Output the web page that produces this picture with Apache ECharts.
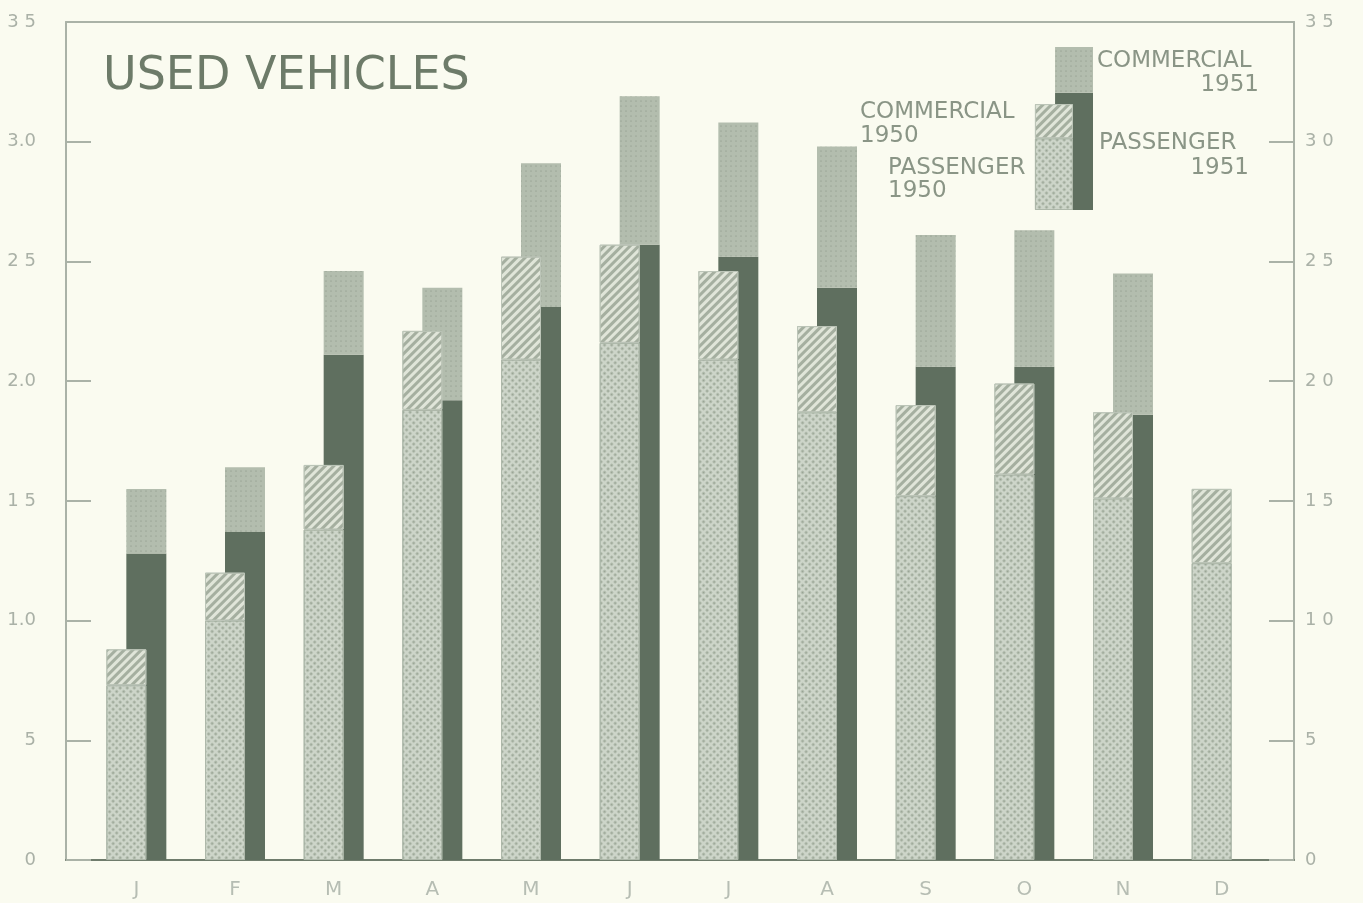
<!DOCTYPE html>
<html>
<head>
<meta charset="utf-8">
<script src="https://cdn.jsdelivr.net/npm/echarts@6/dist/echarts.min.js"></script>
<style>
  html, body { margin: 0; padding: 0; background: #fafbf0; }
  #container { width: 1363px; height: 903px; }
</style>
</head>
<body>
<div id="container"></div>
<script>
// months and values (millions of vehicles)
var months = ['J', 'F', 'M', 'A', 'M', 'J', 'J', 'A', 'S', 'O', 'N', 'D'];
var passenger1950 = [0.73, 1.00, 1.38, 1.88, 2.09, 2.16, 2.09, 1.87, 1.52, 1.61, 1.51, 1.24];
var commercial1950 = [0.15, 0.20, 0.27, 0.33, 0.43, 0.41, 0.37, 0.36, 0.38, 0.38, 0.36, 0.31];
var passenger1951 = [1.28, 1.37, 2.11, 1.92, 2.31, 2.57, 2.52, 2.39, 2.06, 2.06, 1.86, null];
var commercial1951 = [0.27, 0.27, 0.35, 0.47, 0.60, 0.62, 0.56, 0.59, 0.55, 0.57, 0.59, null];

var leftTickLabels = ['0', '5', '1.0', '1 5', '2.0', '2 5', '3.0', '3 5'];
var rightTickLabels = ['0', '5', '1 0', '1 5', '2 0', '2 5', '3 0', '3 5'];

// key (legend) sample bar
var keyPassenger1950 = [0.44];
var keyCommercial1950 = [0.21];
var keyPassenger1951 = [0.72];
var keyCommercial1951 = [0.28];

var chart = echarts.init(document.getElementById('container'));

var axisGray = '#aab2a7';
var textGray = '#8a9586';

// patterns
var crossDecal = {
  symbol: 'rect', symbolSize: 0.75,
  dashArrayX: [3, 2], dashArrayY: [3, 2],
  rotation: Math.PI / 4,
  color: 'rgba(105,120,100,0.55)'
};
var hatchDecal = {
  symbol: 'rect', symbolSize: 1,
  dashArrayX: [1, 0], dashArrayY: [3, 3],
  rotation: -Math.PI / 4,
  color: 'rgba(140,152,135,0.7)'
};
var dotDecal = {
  symbol: 'circle', symbolSize: 0.6,
  dashArrayX: [2, 3], dashArrayY: [2, 3],
  color: 'rgba(80,95,80,0.45)'
};

function yLabel(list) {
  return function (v) {
    return list[Math.round(v / 0.5)];
  };
}

function barSet(prefix, xi, yi, width, gap, p50, c50, p51, c51) {
  return [
    {
      name: 'PASSENGER 1950', type: 'bar', stack: prefix + '1950', xAxisIndex: xi, yAxisIndex: yi,
      barWidth: width, barGap: gap, z: 4, data: p50,
      itemStyle: { color: '#cdd5c9', decal: crossDecal, borderColor: '#aeb8aa', borderWidth: 1 }
    },
    {
      name: 'COMMERCIAL 1950', type: 'bar', stack: prefix + '1950', xAxisIndex: xi, yAxisIndex: yi,
      barWidth: width, barGap: gap, z: 4, data: c50,
      itemStyle: { color: '#e0e5d9', decal: hatchDecal, borderColor: '#bcc5b8', borderWidth: 1 }
    },
    {
      name: 'PASSENGER 1951', type: 'bar', stack: prefix + '1951', xAxisIndex: xi, yAxisIndex: yi,
      barWidth: width, barGap: gap, z: 2, data: p51,
      itemStyle: { color: '#5f6f5f' }
    },
    {
      name: 'COMMERCIAL 1951', type: 'bar', stack: prefix + '1951', xAxisIndex: xi, yAxisIndex: yi,
      barWidth: width, barGap: gap, z: 2, data: c51,
      itemStyle: { color: '#b3bdae', decal: dotDecal }
    }
  ];
}

var labelFont = 'DejaVu Sans';

var option = {
  backgroundColor: '#fafbf0',
  animation: false,
  grid: [
    { left: 66, right: 69, top: 22, bottom: 43 },
    { left: 87, right: 92, top: 22, bottom: 43 },
    { left: 1035, width: 58, top: 47, height: 163 }
  ],
  xAxis: [
    {
      gridIndex: 0, type: 'category', data: [''], position: 'bottom', boundaryGap: false,
      axisLine: { show: true, onZero: false, lineStyle: { color: '#6f7c6c', width: 2 } },
      axisTick: { show: false }, axisLabel: { show: false }, splitLine: { show: false }
    },
    {
      gridIndex: 0, type: 'category', data: [''], position: 'top', boundaryGap: false,
      axisLine: { show: true, onZero: false, lineStyle: { color: axisGray, width: 2 } },
      axisTick: { show: false }, axisLabel: { show: false }, splitLine: { show: false }
    },
    {
      gridIndex: 1, type: 'category', data: months,
      axisLine: { show: false }, axisTick: { show: false },
      axisLabel: { margin: 20, fontSize: 20, color: '#b6bdb3', fontFamily: labelFont }
    },
    {
      gridIndex: 2, type: 'category', data: [''],
      axisLine: { show: false }, axisTick: { show: false }, axisLabel: { show: false }
    }
  ],
  yAxis: [
    {
      gridIndex: 0, type: 'value', min: 0, max: 3.5, interval: 0.5, position: 'left',
      axisLine: { show: true, onZero: false, lineStyle: { color: axisGray, width: 2 } },
      axisTick: { show: true, inside: true, length: 25, lineStyle: { color: axisGray, width: 2 } },
      axisLabel: { margin: 30, fontSize: 18, color: '#aab1a7', fontFamily: labelFont, formatter: yLabel(leftTickLabels) },
      splitLine: { show: false }
    },
    {
      gridIndex: 0, type: 'value', min: 0, max: 3.5, interval: 0.5, position: 'right',
      axisLine: { show: true, onZero: false, lineStyle: { color: axisGray, width: 2 } },
      axisTick: { show: true, inside: true, length: 25, lineStyle: { color: axisGray, width: 2 } },
      axisLabel: { margin: 11, fontSize: 18, color: '#aab1a7', fontFamily: labelFont, formatter: yLabel(rightTickLabels) },
      splitLine: { show: false }
    },
    {
      gridIndex: 1, type: 'value', min: 0, max: 3.5, show: false
    },
    {
      gridIndex: 2, type: 'value', min: 0, max: 1, show: false
    }
  ],
  series: barSet('main', 2, 2, 40, '-50%', passenger1950, commercial1950, passenger1951, commercial1951)
    .concat(barSet('key', 3, 3, 38, '-47%', keyPassenger1950, keyCommercial1950, keyPassenger1951, keyCommercial1951)),
  graphic: [
    { type: 'text', left: 103, top: 54, style: { text: 'USED VEHICLES', fontSize: 46, fontFamily: labelFont, fill: '#6d7b69' } },
    { type: 'text', left: 1097, top: 50, style: { text: 'COMMERCIAL', fontSize: 23, fontFamily: labelFont, fill: textGray } },
    { type: 'text', right: 1363 - 1259, top: 74, style: { text: '1951', fontSize: 23, fontFamily: labelFont, fill: textGray, textAlign: 'right' } },
    { type: 'text', left: 860, top: 101, style: { text: 'COMMERCIAL', fontSize: 23, fontFamily: labelFont, fill: textGray } },
    { type: 'text', left: 860, top: 125, style: { text: '1950', fontSize: 23, fontFamily: labelFont, fill: textGray } },
    { type: 'text', left: 1099, top: 132, style: { text: 'PASSENGER', fontSize: 23, fontFamily: labelFont, fill: textGray } },
    { type: 'text', right: 1363 - 1249, top: 157, style: { text: '1951', fontSize: 23, fontFamily: labelFont, fill: textGray, textAlign: 'right' } },
    { type: 'text', left: 888, top: 157, style: { text: 'PASSENGER', fontSize: 23, fontFamily: labelFont, fill: textGray } },
    { type: 'text', left: 888, top: 180, style: { text: '1950', fontSize: 23, fontFamily: labelFont, fill: textGray } }
  ]
};

chart.setOption(option);
</script>
</body>
</html>
